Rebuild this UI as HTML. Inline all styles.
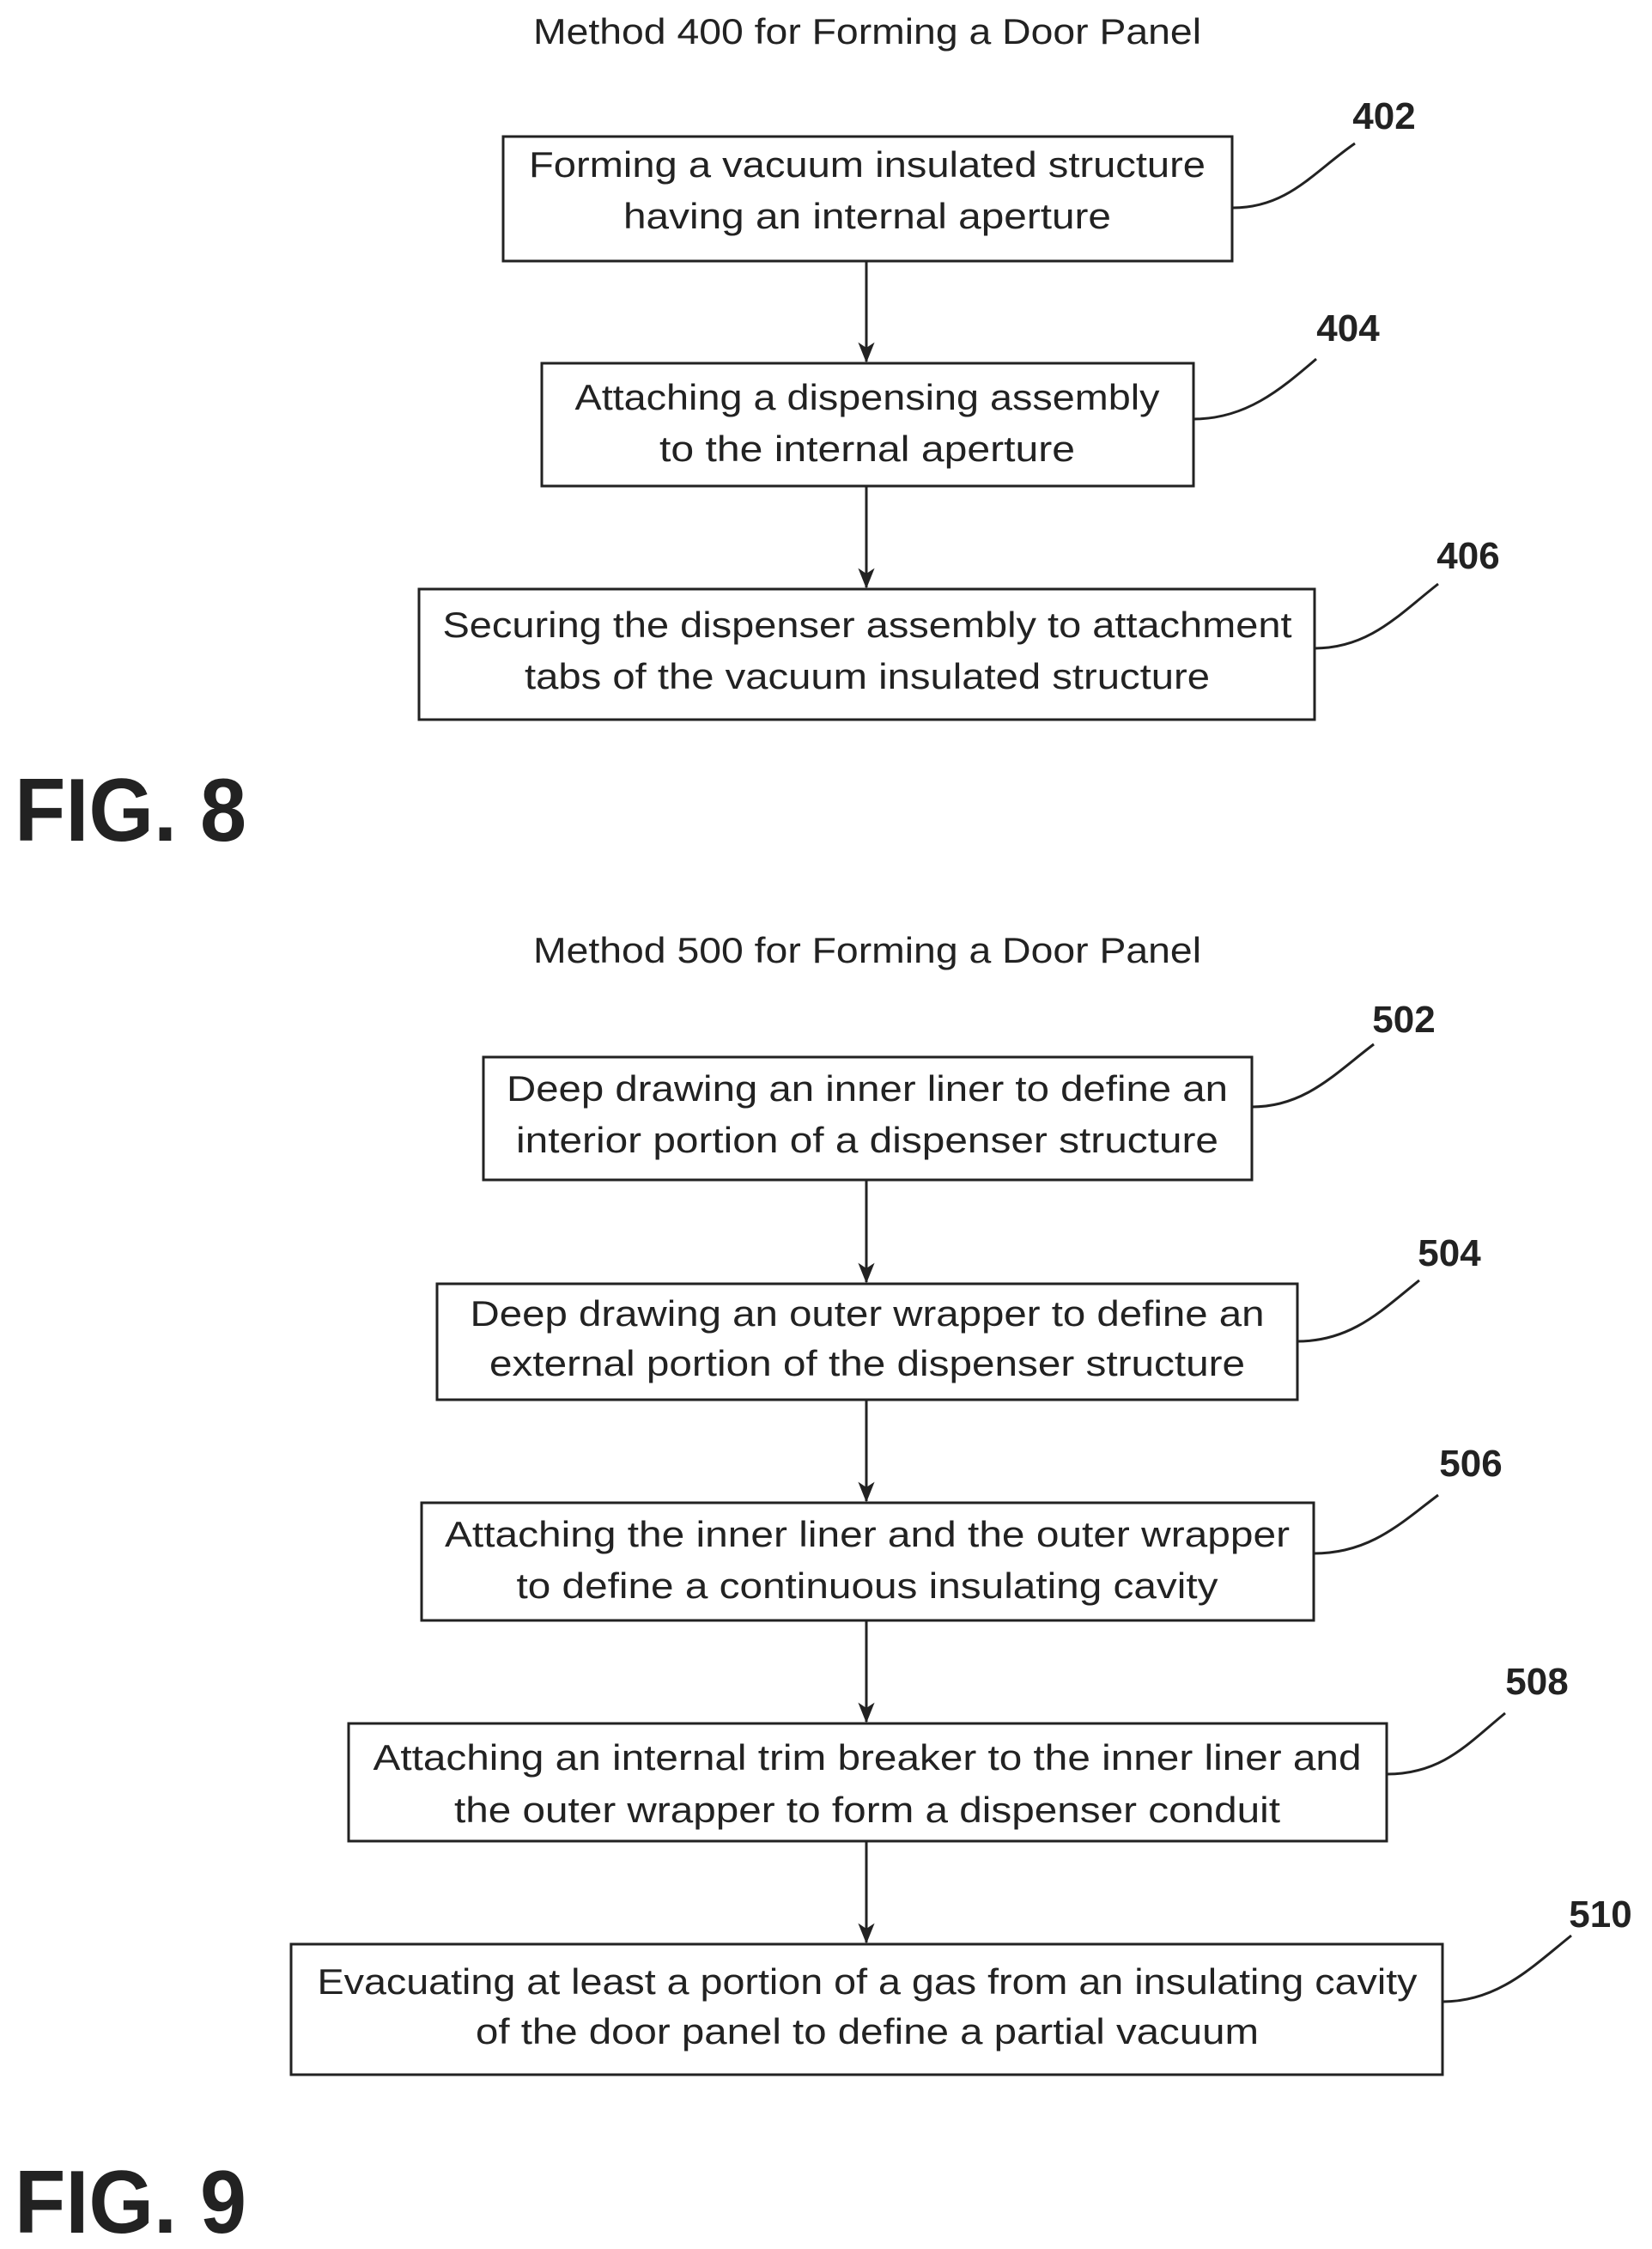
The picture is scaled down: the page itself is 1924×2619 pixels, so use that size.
<!DOCTYPE html>
<html><head><meta charset="utf-8"><style>html,body{margin:0;padding:0;background:#fff}svg{display:block}</style></head>
<body>
<svg width="1924" height="2619" viewBox="0 0 1924 2619" xmlns="http://www.w3.org/2000/svg">
<defs><marker id="a" markerWidth="24" markerHeight="30" refX="28" refY="12" orient="auto" markerUnits="userSpaceOnUse" viewBox="0 0 30 24"><path d="M0,0 L30,12 L0,24 L8,12 Z" fill="#222"/></marker></defs>
<g font-family="Liberation Sans, sans-serif" font-size="42" fill="#222" text-anchor="middle">
<text x="1010" y="51" textLength="778" lengthAdjust="spacingAndGlyphs">Method 400 for Forming a Door Panel</text>
<text x="1010" y="206" textLength="788" lengthAdjust="spacingAndGlyphs">Forming a vacuum insulated structure</text>
<text x="1010" y="266" textLength="568" lengthAdjust="spacingAndGlyphs">having an internal aperture</text>
<text x="1010" y="477" textLength="681" lengthAdjust="spacingAndGlyphs">Attaching a dispensing assembly</text>
<text x="1010" y="537" textLength="484" lengthAdjust="spacingAndGlyphs">to the internal aperture</text>
<text x="1010" y="742" textLength="989" lengthAdjust="spacingAndGlyphs">Securing the dispenser assembly to attachment</text>
<text x="1010" y="802" textLength="798" lengthAdjust="spacingAndGlyphs">tabs of the vacuum insulated structure</text>
<text x="1010" y="1121" textLength="778" lengthAdjust="spacingAndGlyphs">Method 500 for Forming a Door Panel</text>
<text x="1010" y="1282" textLength="840" lengthAdjust="spacingAndGlyphs">Deep drawing an inner liner to define an</text>
<text x="1010" y="1342" textLength="818" lengthAdjust="spacingAndGlyphs">interior portion of a dispenser structure</text>
<text x="1010" y="1544" textLength="925" lengthAdjust="spacingAndGlyphs">Deep drawing an outer wrapper to define an</text>
<text x="1010" y="1602" textLength="880" lengthAdjust="spacingAndGlyphs">external portion of the dispenser structure</text>
<text x="1010" y="1801" textLength="984" lengthAdjust="spacingAndGlyphs">Attaching the inner liner and the outer wrapper</text>
<text x="1010" y="1861" textLength="817" lengthAdjust="spacingAndGlyphs">to define a continuous insulating cavity</text>
<text x="1010" y="2061" textLength="1151" lengthAdjust="spacingAndGlyphs">Attaching an internal trim breaker to the inner liner and</text>
<text x="1010" y="2122" textLength="962" lengthAdjust="spacingAndGlyphs">the outer wrapper to form a dispenser conduit</text>
<text x="1010" y="2322" textLength="1281" lengthAdjust="spacingAndGlyphs">Evacuating at least a portion of a gas from an insulating cavity</text>
<text x="1010" y="2380" textLength="912" lengthAdjust="spacingAndGlyphs">of the door panel to define a partial vacuum</text>
</g>
<g font-family="Liberation Sans, sans-serif" font-size="44" font-weight="bold" fill="#222" text-anchor="middle">
<text x="1612" y="150">402</text><text x="1570" y="397">404</text><text x="1710" y="662">406</text>
<text x="1635" y="1202">502</text><text x="1688" y="1474">504</text><text x="1713" y="1719">506</text>
<text x="1790" y="1973">508</text><text x="1864" y="2244">510</text>
</g>
<g font-family="Liberation Sans, sans-serif" font-size="104" font-weight="bold" fill="#222">
<text x="17" y="979" textLength="270" lengthAdjust="spacingAndGlyphs">FIG. 8</text>
<text x="17" y="2600" textLength="270" lengthAdjust="spacingAndGlyphs">FIG. 9</text>
</g>
<g fill="none" stroke="#222" stroke-width="3">
<rect x="586" y="159" width="849" height="145"/>
<rect x="631" y="423" width="759" height="143"/>
<rect x="488" y="686" width="1043" height="152"/>
<rect x="563" y="1231" width="895" height="143"/>
<rect x="509" y="1495" width="1002" height="135"/>
<rect x="491" y="1750" width="1039" height="137"/>
<rect x="406" y="2007" width="1209" height="137"/>
<rect x="339" y="2264" width="1341" height="152"/>
<g marker-end="url(#a)">
<line x1="1009" y1="304" x2="1009" y2="421"/>
<line x1="1009" y1="566" x2="1009" y2="684"/>
<line x1="1009" y1="1374" x2="1009" y2="1493"/>
<line x1="1009" y1="1630" x2="1009" y2="1748"/>
<line x1="1009" y1="1887" x2="1009" y2="2005"/>
<line x1="1009" y1="2144" x2="1009" y2="2262"/>
</g>
<path d="M1436,242 C1500,242 1530,200 1578,167"/>
<path d="M1390,488 C1450,488 1490,455 1533,418"/>
<path d="M1531,755 C1595,755 1630,715 1675,680"/>
<path d="M1458,1289 C1520,1289 1555,1250 1600,1216"/>
<path d="M1511,1562 C1575,1562 1610,1525 1653,1491"/>
<path d="M1530,1809 C1595,1809 1630,1775 1675,1741"/>
<path d="M1615,2066 C1680,2066 1710,2030 1753,1995"/>
<path d="M1680,2331 C1745,2331 1785,2290 1830,2254"/>
</g>
</svg>
</body></html>
